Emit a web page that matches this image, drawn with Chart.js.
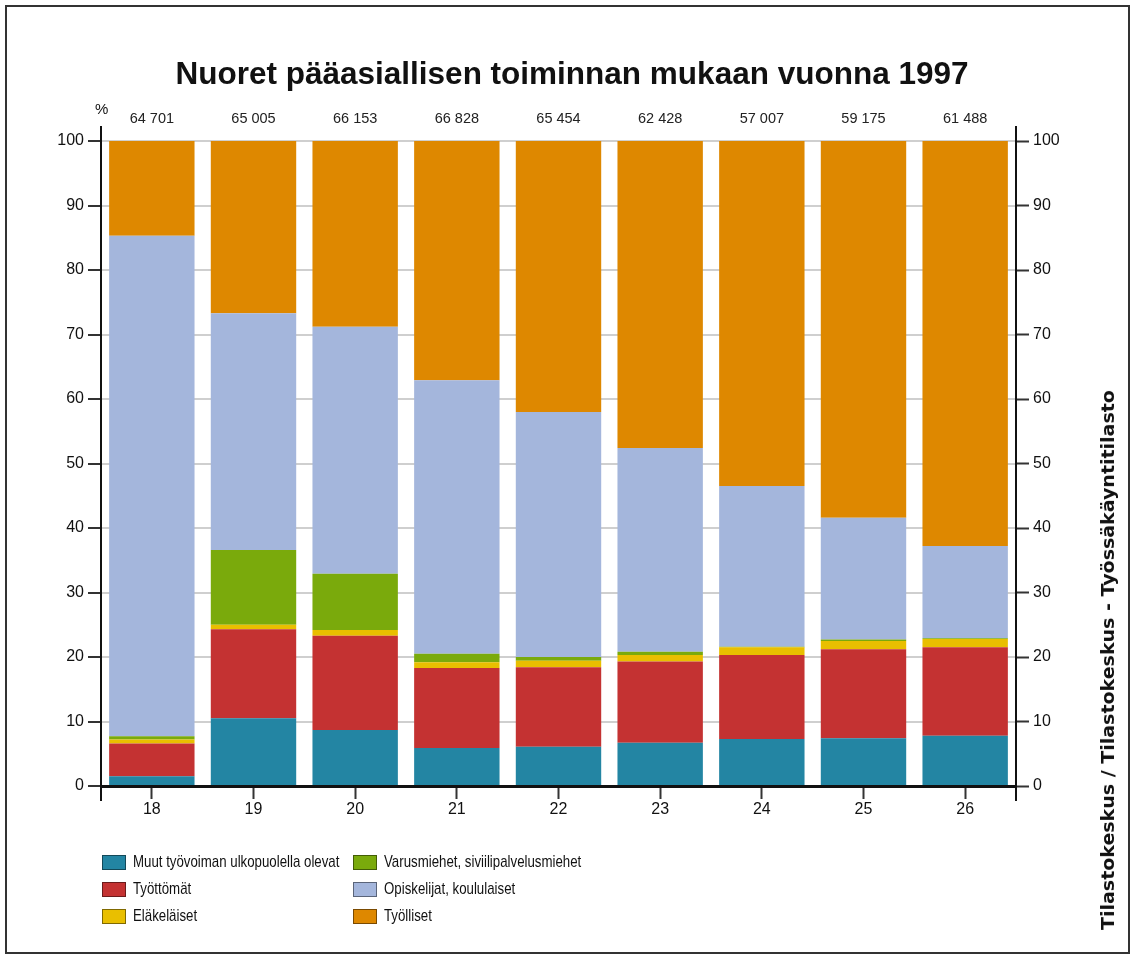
<!DOCTYPE html>
<html lang="fi">
<head>
  <meta charset="UTF-8" />
  <title>Nuoret pääasiallisen toiminnan mukaan vuonna 1997</title>
  <script src="https://cdn.jsdelivr.net/npm/chart.js"></script>
  <style>
    body {
      margin: 0;
      background: #fff;
      font-family: 'Liberation Sans', Arial, sans-serif;
      color: #111;
    }

    .frame {
      position: absolute;
      left: 5px;
      top: 5px;
      width: 1121px;
      height: 945px;
      border: 2px solid #333;
    }

    #chart {
      position: absolute;
      left: 0;
      top: 0;
    }

    .title {
      position: absolute;
      left: 572px;
      top: 55px;
      transform: translateX(-50%);
      white-space: nowrap;
      font-size: 31.5px;
      font-weight: bold;
      color: #111;
    }

    .unit {
      position: absolute;
      left: 95px;
      top: 100px;
      font-size: 15px;
    }

    .source {
      position: absolute;
      left: 1108px;
      top: 660px;
      white-space: nowrap;
      font-family: 'DejaVu Sans', sans-serif;
      font-weight: bold;
      font-size: 17px;
      transform-origin: center;
    }

    #legend {
      position: absolute;
      left: 102px;
      top: 852px;
      display: grid;
      grid-template-rows: repeat(3, 27px);
      grid-template-columns: 251px 400px;
      grid-auto-flow: column;
      font-size: 17px;
    }

    .item {
      display: flex;
      align-items: center;
      height: 20px;
      white-space: nowrap;
    }

    .swatch {
      flex: none;
      width: 22px;
      height: 13px;
      margin-right: 7px;
      border: 1px solid rgba(0, 0, 0, 0.45);
    }

    .text {
      display: inline-block;
      transform: scaleX(0.78);
      transform-origin: left center;
    }
  </style>
</head>
<body>
  <div class="frame"></div>
  <canvas id="chart" width="1133" height="957"></canvas>
  <div class="title">Nuoret pääasiallisen toiminnan mukaan vuonna 1997</div>
  <div class="unit">%</div>
  <div class="source" id="source">Tilastokeskus / Tilastokeskus - Työssäkäyntitilasto</div>
  <div id="legend"></div>

  <script>
    // ikä (vuotta) ja henkilömäärät palkkien yläpuolella
    const ages = ['18', '19', '20', '21', '22', '23', '24', '25', '26'];
    const totals = ['64 701', '65 005', '66 153', '66 828', '65 454', '62 428', '57 007', '59 175', '61 488'];

    // osuudet prosentteina, alhaalta ylös
    const muut = [1.5, 10.5, 8.7, 5.9, 6.1, 6.7, 7.3, 7.4, 7.8];
    const tyottomat = [5.1, 13.8, 14.6, 12.4, 12.3, 12.6, 13.0, 13.8, 13.7];
    const elakelaiset = [0.6, 0.7, 0.9, 0.9, 1.0, 1.0, 1.2, 1.3, 1.3];
    const varusmiehet = [0.5, 11.6, 8.7, 1.3, 0.6, 0.5, 0.1, 0.2, 0.1];
    const opiskelijat = [77.6, 36.7, 38.3, 42.4, 38.0, 31.6, 24.9, 18.9, 14.3];
    const tyolliset = [14.7, 26.7, 28.8, 37.1, 42.0, 47.6, 53.5, 58.4, 62.8];

    const series = [
      { label: 'Muut työvoiman ulkopuolella olevat', data: muut, color: '#2385a3' },
      { label: 'Työttömät', data: tyottomat, color: '#c43232' },
      { label: 'Eläkeläiset', data: elakelaiset, color: '#e9bf00' },
      { label: 'Varusmiehet, siviilipalvelusmiehet', data: varusmiehet, color: '#7aaa0c' },
      { label: 'Opiskelijat, koululaiset', data: opiskelijat, color: '#a4b6dc' },
      { label: 'Työlliset', data: tyolliset, color: '#de8800' }
    ];

    const tickFont = { family: "'Liberation Sans', Arial, sans-serif", size: 16 };

    // jatketaan akseliviivoja hieman piirtoalueen yli
    const axisExtend = {
      id: 'axisExtend',
      afterDraw(chart) {
        const c = chart.ctx;
        const a = chart.chartArea;
        c.save();
        c.strokeStyle = '#111';
        c.lineWidth = 2;
        c.beginPath();
        [a.left, a.right].forEach(x => {
          c.moveTo(x, a.top - 15);
          c.lineTo(x, a.bottom + 15);
        });
        c.stroke();
        c.restore();
      }
    };

    new Chart(document.getElementById('chart'), {
      type: 'bar',
      data: {
        labels: ages,
        datasets: series.map(s => ({
          label: s.label,
          data: s.data,
          backgroundColor: s.color,
          borderWidth: 0,
          barPercentage: 0.84,
          categoryPercentage: 1,
          xAxisID: 'x',
          yAxisID: 'y'
        }))
      },
      options: {
        responsive: false,
        animation: false,
        layout: { padding: { left: 30, right: 40, top: 100, bottom: 120 } },
        plugins: {
          legend: { display: false },
          tooltip: { enabled: false }
        },
        scales: {
          x: {
            stacked: true,
            position: 'bottom',
            afterFit: s => { s.height = 51; },
            grid: { drawOnChartArea: false, offset: false, tickLength: 13, tickColor: '#333', tickWidth: 2 },
            border: { color: '#111', width: 3 },
            ticks: { color: '#111', font: tickFont, padding: 1 }
          },
          x2: {
            type: 'category',
            labels: totals,
            position: 'top',
            offset: true,
            afterFit: s => { s.height = 41; },
            grid: { display: false },
            border: { display: false },
            ticks: { color: '#222', font: { family: "'Liberation Sans', Arial, sans-serif", size: 14.5 }, padding: 5 }
          },
          y: {
            stacked: true,
            min: 0,
            max: 100,
            position: 'left',
            afterFit: s => { s.width = 71; },
            grid: { color: '#cfcfcf', lineWidth: 2, tickLength: 13, tickColor: '#333', tickWidth: 2 },
            border: { color: '#111', width: 2 },
            ticks: { stepSize: 10, color: '#111', font: tickFont, padding: 4 }
          },
          yRight: {
            min: 0,
            max: 100,
            position: 'right',
            afterFit: s => { s.width = 77; },
            grid: { drawOnChartArea: false, tickLength: 13, tickColor: '#333', tickWidth: 2 },
            border: { color: '#111', width: 2 },
            ticks: { stepSize: 10, color: '#111', font: tickFont, padding: 4 }
          }
        }
      },
      plugins: [axisExtend]
    });

    // selite kahdessa sarakkeessa
    const legend = document.getElementById('legend');
    series.forEach(s => {
      const item = document.createElement('div');
      item.className = 'item';
      item.innerHTML = `<span class="swatch" style="background:${s.color}"></span><span class="text">${s.label}</span>`;
      legend.appendChild(item);
    });

    // lähdeteksti pystyyn, venytetään kuvan mittaiseksi
    const src = document.getElementById('source');
    const k = 540 / src.offsetWidth;
    src.style.transform = `translate(-50%, -50%) rotate(-90deg) scaleX(${k})`;
  </script>
</body>
</html>
